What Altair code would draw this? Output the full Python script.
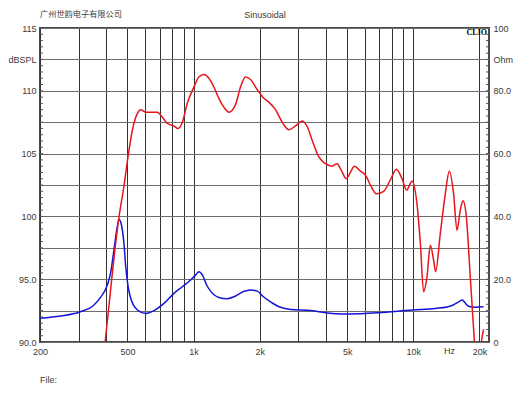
import altair as alt
import pandas as pd

# ---- data ----
spl_freq = [378, 397, 458, 482, 503, 527, 555, 574, 605, 638, 684, 721, 759, 786, 814, 848, 889, 936,
            1003, 1057, 1114, 1174, 1237, 1303, 1373, 1447, 1552, 1635, 1723, 1816, 1948, 2087, 2199,
            2359, 2530, 2712, 2909, 3120, 3298, 3474, 3711, 3981, 4271, 4500, 4658, 4961, 5171, 5393,
            5742, 6050, 6376, 6788, 7328, 7862, 8370, 8885, 9322, 9865, 10390, 10760, 11140, 11540,
            11950, 12370, 12630, 13270, 13980, 14580, 15250, 15800, 16360, 16830, 17420, 18160, 18940,
            19640, 20380, 20870]
spl_db = [86.7, 90.2, 100.0, 102.4, 104.75, 106.9, 108.2, 108.5, 108.3, 108.3, 108.3, 107.9, 107.4,
          107.3, 107.2, 107.0, 107.5, 109.0, 110.3, 111.1, 111.3, 111.0, 110.3, 109.4, 108.7, 108.3,
          108.9, 110.3, 111.1, 110.9, 110.1, 109.4, 109.1, 108.5, 107.5, 106.9, 107.2, 107.6, 107.1,
          106.0, 104.75, 104.2, 104.0, 104.2, 103.8, 103.0, 103.5, 104.0, 103.6, 103.3, 102.5, 101.8,
          102.0, 102.9, 103.75, 103.0, 102.1, 102.8, 101.0, 97.9, 94.0, 95.2, 97.7, 96.5, 95.6, 98.65,
          101.8, 103.6, 101.8, 98.9, 100.5, 101.25, 100.0, 95.2, 90.2, 86.0, 89.9, 91.0]

imp_freq = [200, 249, 303, 352, 378, 405, 420, 434, 447, 458, 466, 474, 482, 491, 504, 517, 555, 605,
            660, 733, 814, 889, 969, 1021, 1057, 1099, 1146, 1195, 1303, 1423, 1552, 1688, 1816, 1954,
            2059, 2239, 2486, 2760, 3402, 4271, 5064, 6934, 9865, 12590, 14230, 15200, 16020, 16700,
            17230, 17840, 19130, 20870]
imp_ohm = [7.6, 8.3, 9.55, 11.8, 14.3, 18.15, 22.3, 29.3, 35.7, 39.0, 38.2, 35.7, 31.4, 24.0, 17.5,
           14.0, 10.2, 9.1, 10.0, 12.3, 15.5, 17.6, 19.75, 21.3, 22.4, 21.2, 18.15, 16.2, 14.2, 13.8,
           14.65, 16.1, 16.6, 16.2, 14.65, 12.8, 11.05, 10.35, 10.0, 9.1, 8.9, 9.3, 10.2, 10.7, 11.15,
           11.8, 12.7, 13.4, 12.4, 11.4, 11.05, 11.2]

x_grid = [200, 300, 400, 500, 600, 700, 800, 900, 1000, 2000, 3000, 4000, 5000, 6000, 7000, 8000,
          9000, 10000, 20000]
x_labels = {200: "200", 500: "500", 1000: "1k", 2000: "2k", 5000: "5k", 10000: "10k", 20000: "20k"}
left_ticks = [90, 92.5, 95, 97.5, 100, 102.5, 105, 107.5, 110, 112.5, 115]
left_labels = {115: "115", 112.5: "dBSPL", 110: "110", 105: "105", 100: "100", 95: "95.0", 90: "90.0"}
right_ticks = [0, 10, 20, 30, 40, 50, 60, 70, 80, 90, 100]
right_labels = {100: "100", 90: "Ohm", 80: "80.0", 60: "60.0", 40: "40.0", 20: "20.0", 0: "0"}
minor_ticks = [90 + 0.5 * i for i in range(51)]


def label_expr(d):
    return "".join(f"datum.value == {k} ? '{v}' : " for k, v in d.items()) + "''"


FONT = "Liberation Sans"
TXT = "#3a3a3a"
W, H = 449, 314

spl_df = pd.DataFrame({"freq": spl_freq, "spl": spl_db})
imp_df = pd.DataFrame({"freq": imp_freq, "ohm": imp_ohm})
minor_df = pd.DataFrame({"v": minor_ticks})

x_enc = alt.X(
    "freq:Q",
    scale=alt.Scale(type="log", domain=[200, 22100], nice=False),
    axis=alt.Axis(values=x_grid, labelExpr=label_expr(x_labels), grid=True, gridColor="#333333",
                  gridWidth=1, ticks=False, domain=False, labelPadding=5, labelFontSize=9,
                  labelFont=FONT, labelColor=TXT, title=None, labelFlush=False,
                  labelOverlap=False, labelBound=False),
)

red = alt.Chart(spl_df).mark_line(color="#e8141b", strokeWidth=1.5, clip=True,
                                  interpolate="monotone").encode(
    x=x_enc,
    y=alt.Y("spl:Q", scale=alt.Scale(domain=[90, 115], nice=False, zero=False),
            axis=alt.Axis(orient="left", values=left_ticks, labelExpr=label_expr(left_labels),
                          grid=True, gridColor="#6e6e6e", gridWidth=1.2, ticks=False, domain=False,
                          labelPadding=4, labelFontSize=9, labelFont=FONT, labelColor=TXT,
                          title=None, labelFlush=False, labelOverlap=False, labelBound=False)),
)

blue = alt.Chart(imp_df).mark_line(color="#1414d8", strokeWidth=1.5, clip=True,
                                   interpolate="monotone").encode(
    x=x_enc,
    y=alt.Y("ohm:Q", scale=alt.Scale(domain=[0, 100], nice=False),
            axis=alt.Axis(orient="right", values=right_ticks, labelExpr=label_expr(right_labels),
                          grid=False, ticks=False, domain=False, labelPadding=4, labelFontSize=9,
                          labelFont=FONT, labelColor=TXT, title=None, labelFlush=False,
                          labelOverlap=False, labelBound=False)),
)

tick_y = alt.Y("v:Q", scale=alt.Scale(domain=[90, 115], nice=False, zero=False), axis=None)
minor_left = alt.Chart(minor_df).mark_rule(color="#555", strokeWidth=1).encode(
    y=tick_y, x=alt.value(0), x2=alt.value(3))
minor_right = alt.Chart(minor_df).mark_rule(color="#555", strokeWidth=1).encode(
    y=tick_y, x=alt.value(W - 3), x2=alt.value(W))


def txt(text, x, y, **kw):
    base = dict(font=FONT, fontSize=9, color=TXT, baseline="middle")
    base.update(kw)
    return alt.Chart(alt.Data(values=[{}])).mark_text(text=text, **base).encode(
        x=alt.value(x), y=alt.value(y))


texts = [
    txt("广州世韵电子有限公司", 0, -13, align="left", font="Noto Sans CJK SC", fontSize=8.2),
    txt("Sinusoidal", 225, -13.5, align="center"),
    txt("CLIO", 447, 5, align="right", font="Liberation Serif", fontWeight="bold", fontSize=8,
        color="#000"),
    txt("Hz", 409.5, 323, align="center"),
    txt("File:", 0, 352, align="left"),
]

chart = alt.layer(blue, red, minor_left, minor_right, *texts).resolve_scale(
    y="independent").properties(
    width=W, height=H,
    padding={"left": 32, "top": 20, "right": 33, "bottom": 46},
    autosize=alt.AutoSizeParams(type="none"),
).configure_view(stroke="#4a4a4a", strokeWidth=2)

chart.save("out.html", embed_options={"renderer": "svg", "actions": False})
